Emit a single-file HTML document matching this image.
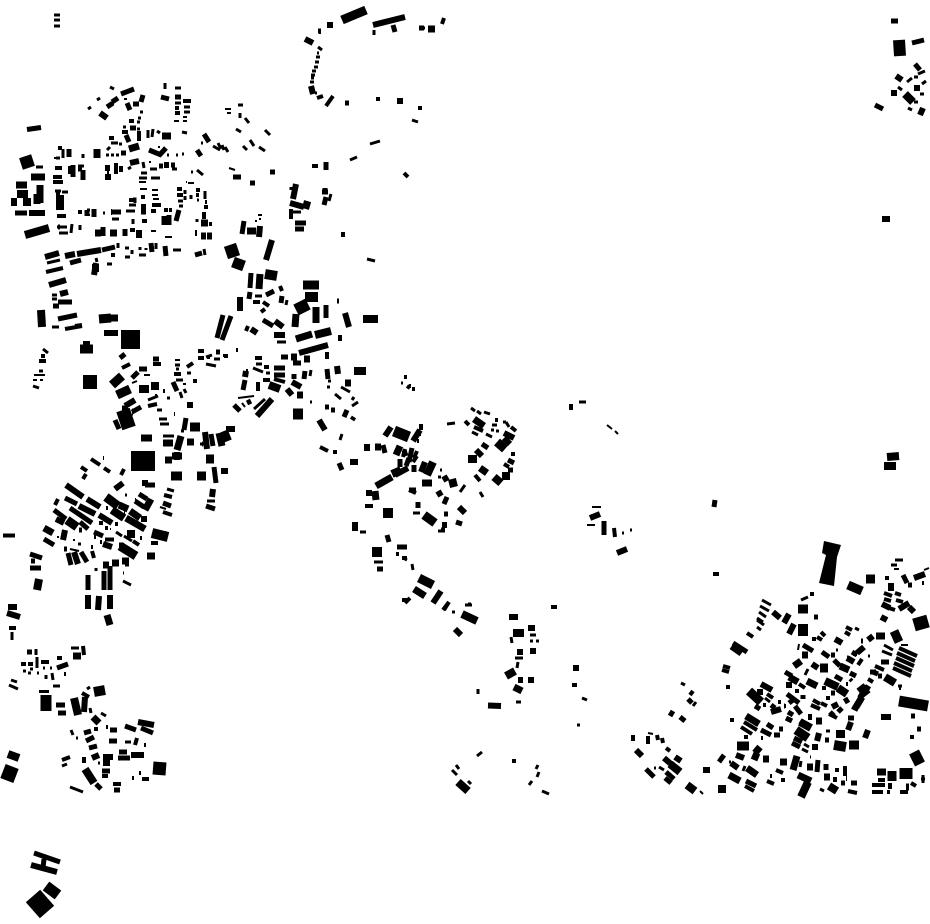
<!DOCTYPE html>
<html><head><meta charset="utf-8"><style>html,body{margin:0;padding:0;background:#fff}svg{display:block}path{fill:none;stroke:#000}</style></head><body>
<svg width="930" height="924" viewBox="0 0 930 924" xmlns="http://www.w3.org/2000/svg">
<!-- additions -->
<path stroke-width="6" d="M257 416L272 399M319 420L325 430M104 333H118"/>
<path stroke-width="3" d="M254 409L265 399M342 434L340 440M238 105H243M240 113V118M236 129L241 132M245 118L249 123M265 130L270 135M259 147L265 151M250 140L254 146M243 146L247 150M213 146L220 150"/>
<path stroke-width="4" d="M320 447L328 451M333 452H337"/>
<path stroke-width="5" d="M339 463L342 470M331 410H335M270 172H275"/>
<path stroke-width="9" d="M99 319L111 318"/>
<path stroke-width="7" d="M110 318H118"/>
<!-- NW quarter -->
<path stroke-width="2" d="M229 168L235 170M225 109H231M227 113H231M124 99H127M186 182H187M188 183H194M158 147H160M163 148H165M54 158H60M149 162H151M183 117H187M183 121H187M174 121H179M139 182H146M140 189H147M152 190H158M152 195H158M151 231H156M165 237H172M107 264H112M153 199H159"/>
<path stroke-width="3" d="M36 167H43M55 191H61M62 192H68M57 227H67M59 233H68M72 224L71 233M80 225V230M47 263L60 260M52 295H57M52 299H57M52 327H59M97 100L100 98M88 109L91 107M110 87L114 89M140 112H143M138 118H141M137 122H140M123 127H126M137 129H140M148 130V138M153 129L152 137M157 131L160 133M165 83V89M175 88H181M175 103H181M184 107H190M184 112H190M182 132L187 133M197 170L203 175M218 143L221 149M222 145L224 150M225 147L228 152M111 143H118M119 144H122M107 150L110 147M106 155H109M111 155H114M116 155H119M128 169L131 167M143 162L144 168M167 155H169M176 155H178M182 154H184M150 169H157M151 178H160M141 173H147M139 178H147M172 169H177M56 158H60M63 149V158M78 166H84M129 205H136M126 211H135M133 199H135V203M133 219V224M140 247V250M146 248V250M178 201H183M179 206H183M185 190V194M185 196V200M191 195V199M197 200H199M205 191V199M87 210H90M103 213H105M112 219H119M125 257H130M125 248H129M132 250V254M139 255H146M173 250H181M156 243V249M204 249L205 255M118 243V248M83 154V158M96 258L97 262M107 264H112"/>
<path stroke-width="4" d="M55 168H62M53 177H62M53 182H63M57 216H66M46 272L63 268M75 326L82 325M65 329L82 326M113 88H113M132 113H132M129 121H134M122 132H128M139 131V141M161 97H161M175 113H180M175 108H179M183 101H191M109 138H114M116 163V174M121 166V172M70 166V174M58 148H62M129 200H134M141 197H145M151 211H156M164 210H168M169 210H172M152 205H161M142 221H147M178 218H178M177 189H182M177 195H183M196 190H200M196 195H199M204 207H208M204 212V219M209 224H212M112 219V219M78 212H82M85 229H85M111 255H115M130 230H135M205 202H207M57 216H66M88 214V216"/>
<path stroke-width="5" d="M27 129.500L41 127.500M15 213H27M121 94L134 89M107 107L113 103M112 102L118 98M130 110L127 103M133 104H139M143 95L141 102M161 97L169 99M175 97H181M204 134L209 142M197 150L201 156M126 135L129 142M130 128H136M58 227H60M60 195H60M68 223H68M149 150L160 154.500L166 148M121 153H126M159 166H163M171 165H175M105 168H105M73 165V177M78 169H82M83 170V180M69 149V157M141 212H146M179 210L176 221M112 212H121M94 209V217M87 210V216M125 229V236M103 227V236M165 246L166 256M151 243L152 252M195 255L202 253M102 250L115 247M70 263L81 260M58 302H72M53 306H59M58 319L77 315M237 176H237M233 177H241M139 232L139 232M162 228L162 228M165 232H165M164 216V225M169 215V225"/>
<path stroke-width="6" d="M29 213H45M65 256L75 254M45 257L59 253M49 285L66 280M77 254L101 250M100 113L107 118M60 294L68 292M141 207H146M131 147H131M164 165H169M130 163L139 161M105 168H110M105 177H111M56 195H60M83 176H83M96 263L94 275M111 212H112M139 230V238M176 231V231M195 233H197"/>
<path stroke-width="7" d="M31 177H45M16 185H27M97 149V158M129 149L139 146M162 136H171M60 235V235M95 233H101M110 233H117M201 236H206M207 236H212M37 194V204M40 185V203M201 223H208M67 293H67"/>
<path stroke-width="8" d="M17 194H28M25 235L49 228M41 310L42 327M60 195V210M11 202H17M23 202H31M107 173H109M92 268H99"/>
<path stroke-width="12" d="M21 164L33 160"/>
<path stroke-width="3" d="M201 143H203M191 172H193M176 215H178M197 219V222"/>
<!-- W mid -->
<path stroke-width="2" d="M34 375H45M33 380H37M40 380H43M144 375H150M132 383L137 381M183 384H186M207 358H210M175 360H180M160 507L166 509"/>
<path stroke-width="3" d="M43 349L48 353M33 386L39 388M39 371H43M175 365H180M176 369H179M176 380H183M148 400L158 396M157 410H162M167 398H170M180 392L182 398M184 389L186 393M187 373H191M206 357L212 355M206 364L216 366M214 359H220M167 489L174 491M207 501H215M181 431H184M200 444H204M163 436H174M159 419H167M160 424H169"/>
<path stroke-width="4" d="M41 356H45M39 361H46M122 368L130 364M153 364H161M174 374H181M193 381H197M198 351H204M198 358H204M204 370H204M163 391H165M187 367L193 363M148 406L157 404M174 414H175M155 396H157M224 356H228M91 459L100 465M103 458H104M81 467L87 471M104 468L110 472M83 479L86 474M121 475L124 469M55 505L58 499M100 523H101M163 512L172 515M164 495L172 497M205 444V444"/>
<path stroke-width="5" d="M120 358L125 354M131 352H131M132 378L138 372M139 369H147M153 359H159M159 372H159M173 382L177 391M115 420L119 429M132 412L141 407M214 467L216 483M186 418L184 430M202 444H203M216 352H220M163 503L171 506M206 506L215 509M145 485H151M151 485H155M211 434L213 446M65 498L77 504M139 494L147 499M135 501L144 507M116 492H116"/>
<path stroke-width="6" d="M41 315H42M125 406L135 400M205 432L207 449M226 429H232M229 429H235M190 405H190M187 405L193 405M221 471H228M213 489L212 497M142 483H148M66 485L83 497M87 499L100 507M79 506L95 514"/>
<path stroke-width="7" d="M80 348H93M112 385H112M117 395L130 389M181 436L177 450M141 438L152 438M163 443H173M122 409H128M219 433L222 446M91 459H91M132 412H133M165 460H172M172 456H182"/>
<path stroke-width="8" d="M83 345H90M155 386H155M151 386H159M139 389H149M224 431L228 441M174 456H180"/>
<path stroke-width="9" d="M80 349H93M112 385L122 376M117 395L130 389M206 459H214M171 476H182M197 476H206M190 427H200"/>
<path stroke-width="14" d="M83 382H97M123 410L129 428"/>
<path stroke-width="7" d="M187 442H194"/>
<path stroke-width="19" d="M121 339.500H140"/>
<path stroke-width="20" d="M131 461H155"/>
<!-- SW neighbourhood -->
<path stroke-width="2" d="M73 540H75M57 537H59M70 549L79 551M110 529H111"/>
<path stroke-width="3" d="M125 495H127M116 532L122 536M124 536L132 541M78 544H81M123 573H124M123 581L131 585M96 568V571M39 691.500H49M53 686H60M41 662H49"/>
<path stroke-width="4" d="M3 535.500H15M9 628H16M91 547H93M92 551L94 558M106 508H108M100 542H102M94 537H96M140 538H142M133 541L139 545M99 523H103M105 528H108M30 568H41M115 524H118M151 543H158M105 539.500H114"/>
<path stroke-width="5" d="M30 554L42 558M31 561H35M44 539L54 545M30 568H41M65 498H65M54 510L66 519M70 508L92 523M80 522L88 529M79 530H82M68 553L71 565M81 552L87 562M64 549H67M94 532L103 536M119 545H123M88 575V590M104 571V590M110 566V590M85 595V595"/>
<path stroke-width="6" d="M56 519L64 523M65 530L63 540M74 552L78 564M7 613L20 617M8 607H17M85 602H91M88 595V609M99 596L98 610M110 595V609M99 515L112 523M115 489L123 483M103 544L112 547M135 501H136M79 506L95 514M160 534H166M124 509H125M144 519H144M141 519H147"/>
<path stroke-width="7" d="M107 615L110 625M112 563H119M125 563H129M122 561H129M103 565H109M119 505L128 509M130 511L140 518M124 512H125M112 510L124 518M126 518L145 529M145 510L151 499M147 556H155M44 528L53 533"/>
<path stroke-width="8" d="M39 579L37 590M106 497L118 506M112 510L124 518M127 534H135"/>
<path stroke-width="9" d="M120 546L136 556M67 520L77 527M106 497L118 506"/>
<path stroke-width="10" d="M152 533L168 537"/>
<path stroke-width="3" d="M12 632V640M36 649L36 655M37 657V668M11 680L17 682M9 685L18 689M46 675V679M43 668H45M50 668H52M52 673L53 680M71 648H79M83 646L84 655M23 671H26M87 689L90 687M90 708L91 713M101 713L106 716M71 730L73 735M76 738H78M70 787L83 792M62 766L67 764M98 763H100M125 742H131M37 673H39M28 673H31M30 669H33"/>
<path stroke-width="4" d="M21 664H26M28 664H33M41 662H49M57 658H62M64 674H66M83 646L84 655M82 693L89 697M94 729H98M106 727H108M102 776H108M113 784H121M132 778H134M139 773H141M142 779H149M137 738L135 745M144 745H146M62 760L70 757M84 757V763"/>
<path stroke-width="5" d="M27 652H32M57 668L68 664M56 705H65M58 713H66M84 733L91 731M86 741L94 737M89 748L97 746M110 730H117M109 741H117M125 726L136 730M141 728L153 733M119 752H127M118 758H130M102 771H110M96 784L101 789M114 790H120"/>
<path stroke-width="6" d="M85 697L84 712M138 722L154 725M131 755H144M92 758L99 755M103 757H113M103 763H110"/>
<path stroke-width="7" d="M73 656H81M93 717L99 723"/>
<path stroke-width="8" d="M74 698L78 715M8 754L19 758M85 769L94 783"/>
<path stroke-width="10" d="M94 692L105 690"/>
<path stroke-width="11" d="M46 695V711"/>
<path stroke-width="13" d="M160 762L159 775"/>
<path stroke-width="15" d="M3 771L16 776"/>
<path stroke-width="5" d="M34 853L60 862M44 859L43 868"/>
<path stroke-width="6" d="M31 865L57 872"/>
<path stroke-width="11" d="M46 886L58 895"/>
<path stroke-width="19" d="M33 896L47 912"/>
<path stroke-width="3" d="M54 15H60M54 20H60M54 26H60"/>
<!-- Central top -->
<path stroke-width="2" d="M238 398L254 396M242 403L245 407M255 221H257M259 219H261M258 215H262"/>
<path stroke-width="3" d="M293 212H301M331 194L329 201M367 259L375 261M253 302H256M255 296H262M253 363L253 363M256 364H262M253 368L263 372M266 373H270M277 342H286M287 300L286 305M223 355.500H228M341 387L350 392M335 394L341 399M352 400L354 397M352 406L358 402M311 370L310 376M327 387H330M328 381H331M401 383H403M310 402H312"/>
<path stroke-width="4" d="M291 209V219M248 326L246 331M280 286L282 291M253 302H260M263 302L269 306M261 312L265 309M343 232V237M246 371H248M255 358H262M264 367H269M263 380H270M258 382V391M274 379L285 382M236 350H238M327 352V359M340 335V341M404 377H407M409 386H411M404 378H404M407 386L410 388M412 389H415M263 320L273 326"/>
<path stroke-width="5" d="M250 183H255M322 192H328M326 197L324 205M244 221L242 234M295 223H306M295 229H304M251 273L250 288M250 292L249 299M266 295L274 291M282 296L281 303M223 315L217 338M231 316L222 340M326 305V318M263 320L273 326M274 368H285M274 375H285M281 357H288M294 374V379M305 371L304 379M245 380L243 390M327 369L328 379M337 301H339M344 417L347 410M352 420L354 417M325 407H329M234 405L240 411M247 403L251 401M293 363H301"/>
<path stroke-width="6" d="M296 184L293 199M290 203L304 207M345 313L349 327M240 297V311M272 240L266 260M251 329L257 333M275 321L283 327M274 335H285M292 382L301 387M287 389L292 395M316 322V322M296 339L312 334M299 353L328 345M337 366L338 374M260 226L259 237M246 371L245 377"/>
<path stroke-width="7" d="M247 231H256M260 274L259 289M296 314L295 327M316 307V323M296 339L312 334M291 357H297M304 359H310M300 395H301M297 395H303M345 383H351M357 371H357"/>
<path stroke-width="8" d="M303 204L310 206M315 335L331 331M363 319H378M269 385L280 389M354 371H366"/>
<path stroke-width="9" d="M303 285H319"/>
<path stroke-width="10" d="M265 274L277 276M305 297H318"/>
<path stroke-width="11" d="M233 262L244 266M293 414H303"/>
<path stroke-width="12" d="M296 310L308 304"/>
<path stroke-width="13" d="M226 253L238 249"/>
<path stroke-width="3" d="M318 47L322 50M317 53H319M316 57H320M315 62H319M314 67H318M312 71H316M311 75H315M311 78H314M310 82H314M315 93H317M374 30V35M412 120L418 122M370 144L380 141M350 160L357 157M312 166H318M419 28H425"/>
<path stroke-width="4" d="M444 18L442 24M326 106L333 96M317 98L323 96M376 99H380M418 108L422 108M404 173L408 177M312 166H318M319 32L321 32"/>
<path stroke-width="5" d="M393 25L395 32M345 103H349M419 28H424M326 162V170M318 31H321M311 86L313 94M292 187V190M325 188L325 191"/>
<path stroke-width="6" d="M305 39L313 43M373 25L405 17M327 25H333M397 101H403M311 86L313 94"/>
<path stroke-width="7" d="M428 29H435"/>
<path stroke-width="9" d="M342 20L366 10"/>
<!-- NE -->
<path stroke-width="5" d="M891 21H898M912 43L924 40M875 105L883 109M915 64L920 70"/>
<path stroke-width="3" d="M918 74L925 71M907 82L912 78M914 77H918M922 84L926 81M920 94H924M898 87L902 90M908 108L912 110M914 102H918"/>
<path stroke-width="6" d="M920 115L923 108M891 93H897M914 88H920M882 219H890"/>
<path stroke-width="6" d="M896 76L902 80M886 472V472"/>
<path stroke-width="12" d="M899 40L900 56"/>
<path stroke-width="8" d="M905 94L913 102M887 457L899 456M884 466H896"/>
<!-- Centre -->
<path stroke-width="2" d="M607 425L612 429M615 431L618 434M592 507H601M587 525H595"/>
<path stroke-width="3" d="M579 402H586M622 533H624M630 530H632M465 605H472M492 425H497M491 430H494M496 431H499M447 424L455 423M471 408L475 411M477 411L481 414M484 412L490 414M506 422L509 427M503 422H506M472 432L478 435M486 434L492 437M441 529H445M438 531H445M438 477H441M440 470H442M465 485L460 492M480 492L483 497M403 558L407 560M412 564L413 570M374 562H383M360 532H366M413 513H420M452 612H455M468 604H471"/>
<path stroke-width="4" d="M571 404V410M614 528L615 537M551 607H557M713 574H719M417 441H419M417 451L414 458M413 462L417 456M405 449L403 457M365 506H373M396 554H399M443 610L449 602M409 490L416 493M444 504L447 497M402 558H407M474 427L483 431M465 421L469 425M495 420H498M511 427L516 431M511 454H515M504 464L509 467M475 475L480 481M419 434H421M402 600H407M405 603L410 598M418 502V508M444 610L449 602"/>
<path stroke-width="5" d="M715 500L714 507M604 521V535M417 451V451M385 445V445M383 445L385 453M404 450L406 456M409 458L406 466M400 459V467M412 448L409 462M397 547H407M414 465V472M425 464V464M456 522L462 524M444 514H448M418 502L418 508M409 490H416M447 497L444 504M482 444L488 448M508 460L514 463M508 470H513M463 510H462M452 479H452M352 526V526M387 535L389 542M377 569H383M437 592H437M444 476L447 481"/>
<path stroke-width="6" d="M590 518L600 514M617 553L627 549M385 436L391 427M413 441L420 430M419 427H423M350 462H358M367 444V451M395 475L408 468M369 490V496M433 603L441 591M438 491L441 496M459 507L465 513M476 450L482 456M504 433L514 438M504 438L510 444M355 522V531M444 476L447 481M442 525H447M425 462L421 472M455 629L461 635"/>
<path stroke-width="7" d="M375 447H381M396 455L400 446M376 486L392 477M375 491L376 500M422 483H432M414 589L425 596M480 468L487 473M474 419L484 426"/>
<path stroke-width="8" d="M401 470L392 474M433 462L427 475M452 479L454 487M462 614L477 621M494 477L501 483M502 476H510M468 459H477"/>
<path stroke-width="9" d="M424 515L435 523M419 578L433 585M497 442L505 449"/>
<path stroke-width="10" d="M383 513H393M372 552H382"/>
<path stroke-width="11" d="M394 431L409 437"/>
<path stroke-width="6" d="M509 617H518M528 628H535M517 652H523M530 651H536M518 680H523M528 680H534M573 668H579M488 705.500L501 706"/>
<path stroke-width="3" d="M530 635H536M536 641H539M530 641H533M511 637L512 643M515 658H523M518 662L517 668M478 689V694M516 702H521M582 698L587 700M577 725H580M477 756L482 752M456 765L459 769M452 770L457 775M468 781L471 784M536 769L538 765M537 777L539 772M529 785L532 781M542 791L549 794M572 685H577"/>
<path stroke-width="4" d="M512 761H516M572 685H577"/>
<path stroke-width="7" d="M514 687L522 691"/>
<path stroke-width="8" d="M506 676L515 671M513 633H524M458 782L468 791"/>
<!-- SE west cluster -->
<path stroke-width="2" d="M648 733L653 734M700 791L703 794"/>
<path stroke-width="3" d="M681 683L685 685M693 706L696 702M659 767L664 770M654 768H656"/>
<path stroke-width="4" d="M690 695L693 691M633 735V741M648 736V744M657 735L658 740M662 738L663 743M666 748L670 751"/>
<path stroke-width="5" d="M688 699L692 703M670 716L673 711M680 717L685 721M646 769L650 773M650 773L654 777M666 772L674 779M665 778L671 783"/>
<path stroke-width="6" d="M636 750L642 756M664 758L671 764M675 757L681 761M703 770H710"/>
<path stroke-width="8" d="M670 764L680 772M687 785L695 791"/>
<!-- SE -->
<polygon fill="#000" points="824,541 841,545 837,557 834,586 819,583 826,555 822,553"/>
<path stroke-width="2" d="M894 569H899M924 570L929 568M901 645H908M799 644L798 650"/>
<path stroke-width="3" d="M895 560H903M891 565H897M801 600L808 597M757 627L761 630M762 600L771 605M760 606L769 611M759 612L766 617M757 618L763 622M757 620L764 625M884 645L893 650M882 651L892 655M868 656H870M805 675L808 669M898 686H902M765 698L770 702M804 744L809 747M802 749L808 752M826 731H830M801 761L800 767M824 791L820 789M743 771L745 766M729 762H731"/>
<path stroke-width="4" d="M812 592V596M885 578H889M922 583H924M884 593L892 596M884 599L891 601M895 593L901 595M896 600L903 602M889 608L895 610M747 633L753 637M728 685V689M732 718V722M821 632L825 636M817 637L822 640M814 637V641M846 627L852 630M845 632L850 635M853 654H857M858 665L862 659M875 666L884 670M868 679L873 682M865 686L870 689M852 707L858 710M899 688H901M912 735V739M822 652L829 657M799 684L805 688M795 691H799M813 700L820 704M811 705L820 709M821 703L827 706M826 698H830M829 714L837 718M846 684L848 684M850 679L852 681M822 688H826M778 702H781M784 706H786M763 705H766M767 694L773 698M744 722L757 730M741 727L752 734M744 737H748M761 738H763M845 766V776M848 791L857 793M745 786L754 791M767 781L774 784M776 770L783 773M772 776L770 776M781 780H785M835 777V782M837 768V772M872 785H885M878 780H885M911 783L916 786M900 792H908M887 792H890M872 792H883"/>
<path stroke-width="4" d="M899 648L917 656M897 653L915 661M896 658L914 666M894 663L912 671M893 668L911 676"/>
<path stroke-width="5" d="M903 575L907 583M908 585H912M814 617H818M733 643L747 652M731 647L741 654M719 762L724 755M818 760L817 772M826 764V770M881 662H889M870 672H876M878 676H882M863 641H861M803 645L813 651M822 652L829 657M831 655H835M847 658H848M852 652L857 655M850 673L856 676M835 676L842 680M831 693H835M805 697H805M803 695V699M789 703L793 700M787 694L799 703M792 743L800 747M794 738L802 742M825 740H829M851 718V718M848 718H854M767 724L773 728M779 729H783M771 718V718M854 783H856M851 783H857M841 783H845M746 781L756 786M774 735H780M919 729H920M917 729H921M911 716H915M761 730L771 735M784 706H785"/>
<path stroke-width="6" d="M914 578L925 574M882 604L890 608M899 609L909 603M909 607L914 612M881 617L887 620M773 612L780 618M789 614L784 623M794 624L789 634M835 639L842 643M868 640L873 636M847 658L854 662M857 653L864 647M860 698L867 686M812 664L818 668M846 778L847 778M789 685V685M786 685H792M800 721L808 726M808 717H812M832 707L838 704M881 717H891M851 722L848 730M868 730L865 738M771 712L781 709M819 733L817 741M812 747H818M761 684L772 690M757 692H763M736 755L744 758M725 789H725M793 771H793M756 750V750M731 763L738 768M888 786H892"/>
<path stroke-width="7" d="M756 767L756 767M757 753L754 760M763 759H769M840 666L849 670M789 677L798 682M807 681L817 686M794 666L801 661M802 655H808M746 716L759 724M747 768L757 775M729 775L740 781M780 762H787M797 756L793 770M807 767H813M798 775L811 781M824 777H830M877 772H886M876 636H885M856 707L862 697M816 721H822M901 764V764M843 787V787M760 747L755 753M906 787H909"/>
<path stroke-width="8" d="M838 688L847 694M885 677L895 683M800 722L811 728M829 786L837 791M808 782L801 797M722 785L722 793M836 734H845M825 681L838 687M888 587H894"/>
<path stroke-width="9" d="M798 609H808M866 579H875M796 730L808 738M860 686L867 695M737 746H749M894 631L899 642M848 585L862 591M892 771V781M854 745H855M849 745H859M749 691L761 702M820 668L828 668"/>
<path stroke-width="10" d="M803 624V636M834 745L846 747"/>
<path stroke-width="11" d="M899 701L928 706M914 752L920 764"/>
<path stroke-width="13" d="M914 625L928 621M906 768V779"/>
<path stroke-width="5" d="M873 672L878 674M845 698L848 703M785 672L792 676M834 660L840 666M830 712L834 716M838 712L842 708M795 706L801 714M788 712L793 715M786 718L792 721M771 705L775 708M755 706L760 709"/>
<path stroke-width="3" d="M855 628L859 630M836 650H838M810 757H811M921 779H925M923 775V783"/>
<path stroke-width="4" d="M723 666L730 668M722 670L729 672"/>
</svg>
</body></html>
